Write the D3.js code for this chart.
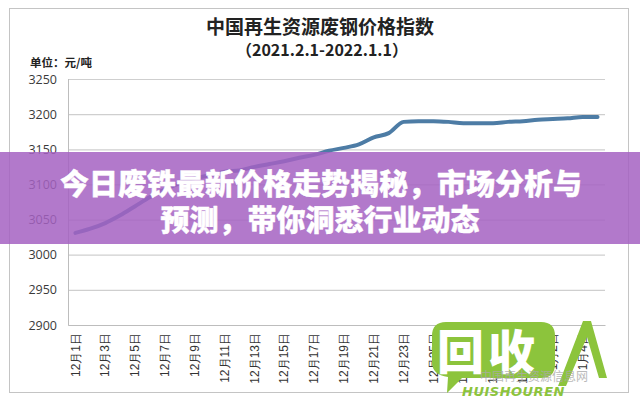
<!DOCTYPE html>
<html><head><meta charset="utf-8">
<script src="https://cdn.jsdelivr.net/npm/d3@7"></script>
<style>
html,body{margin:0;padding:0;background:#fff;}
svg{display:block;font-family:"Noto Sans CJK SC","Noto Sans",sans-serif;}
</style></head>
<body>
<script>
// ---- data ----
const categories = [
  "12月1日","12月2日","12月3日","12月4日","12月5日","12月6日","12月7日","12月8日","12月9日","12月10日",
  "12月11日","12月12日","12月13日","12月14日","12月15日","12月16日","12月17日","12月18日","12月19日","12月20日",
  "12月21日","12月22日","12月23日","12月24日","12月25日","12月26日","12月27日","12月28日","12月29日","12月30日",
  "12月31日","1月1日","1月2日","1月3日","1月4日","1月5日"];
const values = [3031,3037,3045,3056,3069,3082,3093,3102,3109,3113,
  3118,3120,3125,3129,3133,3138,3142,3148,3152,3157,
  3167,3173,3189,3190,3190,3189,3187,3187,3187,3189,
  3190,3192,3193,3194,3196,3196];
const yTicks = [2900,2950,3000,3050,3100,3150,3200,3250];
const titleText = "中国再生资源废钢价格指数";
const subtitleText = "（2021.2.1-2022.1.1）";
const unitText = "单位：元/吨";
const bannerLines = ["今日废铁最新价格走势揭秘，市场分析与","预测，带你洞悉行业动态"];

// ---- layout ----
const W = 640, H = 400;
const plot = {left: 68, right: 605, top: 79, bottom: 325};

const svg = d3.select("body").append("svg").attr("width", W).attr("height", H);

// outer frame
svg.append("rect").attr("x", 9.5).attr("y", 8.5).attr("width", 619).attr("height", 384)
  .attr("fill", "#fff").attr("stroke", "#c4c4c4").attr("stroke-width", 1);

const x = d3.scaleBand().domain(categories).range([plot.left, plot.right]).paddingInner(0).paddingOuter(0);
const y = d3.scaleLinear().domain([2900, 3250]).range([plot.bottom, plot.top]);

// title
svg.append("text").attr("x", 320).attr("y", 34).attr("text-anchor", "middle")
  .attr("font-size", 19).attr("font-weight", "bold").attr("fill", "#222").text(titleText);
svg.append("text").attr("x", 322).attr("y", 56).attr("text-anchor", "middle")
  .attr("font-size", 16).attr("font-weight", "bold").attr("fill", "#222").text(subtitleText);
svg.append("text").attr("x", 30).attr("y", 67)
  .attr("font-size", 11.5).attr("font-weight", "bold").attr("fill", "#222").text(unitText);

// y axis + gridlines
const yAxis = svg.append("g").attr("transform", `translate(${plot.left},0)`)
  .call(d3.axisLeft(y).tickValues(yTicks).tickSize(-(plot.right - plot.left)).tickPadding(11).tickFormat(d3.format("d")));
yAxis.select(".domain").remove();
yAxis.selectAll(".tick line").attr("stroke", "#cfcfcf").attr("stroke-width", 1.2);
yAxis.selectAll(".tick text").attr("font-size", 12.5).attr("fill", "#3a3a3a")
  .attr("font-family", "'Open Sans','DejaVu Sans',sans-serif");

// left axis line
svg.append("line").attr("x1", plot.left + 0.5).attr("x2", plot.left + 0.5)
  .attr("y1", plot.top).attr("y2", plot.bottom).attr("stroke", "#bdbdbd");

// x axis
const xAxis = svg.append("g").attr("transform", `translate(0,${plot.bottom})`)
  .call(d3.axisBottom(x).tickValues(categories.filter((d, i) => i % 2 === 0)).tickSize(0).tickPadding(0));
xAxis.select(".domain").attr("stroke", "#bdbdbd");
xAxis.selectAll(".tick text")
  .attr("font-size", 12).attr("fill", "#333")
  .attr("text-anchor", "end")
  .attr("dy", "0.35em")
  .attr("transform", "translate(0,8) rotate(-90)")
  .attr("x", 0).attr("y", 0);

// line
const line = d3.line()
  .x((d, i) => x(categories[i]) + x.bandwidth() / 2)
  .y(d => y(d))
  .curve(d3.curveMonotoneX);
svg.append("path").datum(values).attr("d", line)
  .attr("fill", "none").attr("stroke", "#4d7ca5").attr("stroke-width", 4)
  .attr("stroke-linejoin", "round").attr("stroke-linecap", "round");

// banner overlay
svg.append("rect").attr("x", 0).attr("y", 152).attr("width", W).attr("height", 92)
  .attr("fill", "#a462c2").attr("opacity", 0.85);
[[bannerLines[0], 321, 195], [bannerLines[1], 320, 231]].forEach(([t, tx, ty]) => {
  svg.append("text").attr("x", tx).attr("y", ty).attr("text-anchor", "middle")
    .attr("font-size", 29).attr("font-weight", "900").attr("fill", "#fff")
    .attr("stroke", "#fff").attr("stroke-width", 0.4).attr("stroke-linejoin", "round").text(t);
});

// watermark
const wm = svg.append("g");
const green = "#8cc43c";
wm.append("path")
  .attr("d", "M444,322 H541 Q555,322 555,336 V364 Q555,378 541,378 H462 L447,393 L448,377 Q432,375 432,362 V336 Q432,322 446,322 Z")
  .attr("fill", green);
wm.append("text").attr("x", 437).attr("y", 369).attr("font-size", 47).attr("font-weight", "900")
  .attr("fill", "#fff").attr("letter-spacing", 4).text("回收");
wm.append("path")
  .attr("d", "M583,321 L591,321 L607,378 L599,378 L587,337 L566,386 L558,386 Z")
  .attr("fill", green);
wm.append("text").attr("x", 480).attr("y", 381).attr("font-size", 12)
  .attr("fill", "#aaa").attr("opacity", 0.8).text("中国再生资源信息网");
wm.append("text").attr("x", 462).attr("y", 396).attr("font-size", 13).attr("font-weight", "bold")
  .attr("font-style", "italic").attr("fill", green).attr("font-family", "'DejaVu Sans',sans-serif")
  .attr("letter-spacing", 0.5).text("HUISHOUREN");
</script>
</body></html>
